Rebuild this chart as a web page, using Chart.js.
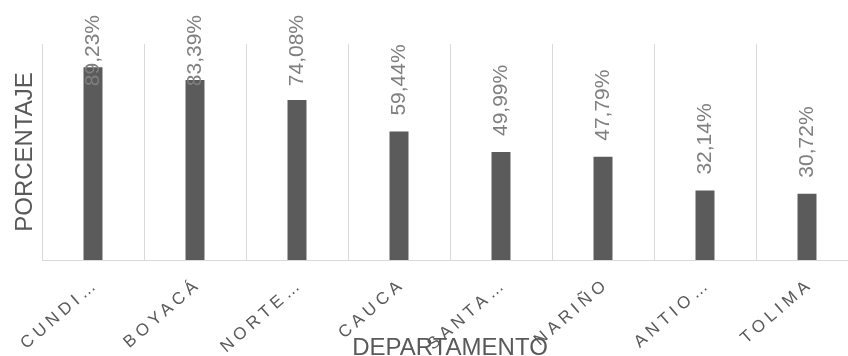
<!DOCTYPE html>
<html>
<head>
<meta charset="utf-8">
<script src="https://cdn.jsdelivr.net/npm/chart.js@4/dist/chart.umd.min.js"></script>
<style>
  html, body { margin: 0; padding: 0; background: #ffffff; overflow: hidden; }
  #wrap { width: 848px; height: 356px; overflow: hidden; position: relative; }
  canvas { display: block; }
</style>
</head>
<body>
<div id="wrap"><canvas id="c" width="858" height="356"></canvas></div>
<script>
// ---- data ----
const categories = ['CUNDI…', 'BOYACÁ', 'NORTE…', 'CAUCA', 'SANTA…', 'NARIÑO', 'ANTIO…', 'TOLIMA'];
const percentages = [89.23, 83.39, 74.08, 59.44, 49.99, 47.79, 32.14, 30.72];
const yTitle = 'PORCENTAJE';
const xTitle = 'DEPARTAMENTO';

const FONT = "'Liberation Sans', Arial, Helvetica, sans-serif";

function fmt(v) { return v.toFixed(2).replace('.', ',') + '%'; }

const labelPlugin = {
  id: 'barValueLabels',
  afterDatasetsDraw(chart) {
    const ctx = chart.ctx;
    const meta = chart.getDatasetMeta(0);
    ctx.save();
    ctx.letterSpacing = '0px';
    ctx.font = '21px ' + FONT;
    ctx.fillStyle = '#7f7f7f';
    ctx.textBaseline = 'middle';
    ctx.textAlign = 'left';
    meta.data.forEach((bar, i) => {
      const txt = fmt(percentages[i]);
      const w = ctx.measureText(txt).width;
      let bottom = bar.y - 16;
      if (bottom - w < 15) bottom = 15 + w;
      ctx.save();
      ctx.translate(bar.x, bottom);
      ctx.rotate(-Math.PI / 2);
      ctx.fillText(txt, 0, 0);
      ctx.restore();
    });
    ctx.restore();
    // letter spacing for the x tick labels drawn next (ticks z = 1)
    ctx.letterSpacing = '4.5px';
  },
  afterDraw(chart) {
    chart.ctx.letterSpacing = '0px';
  }
};

new Chart(document.getElementById('c'), {
  type: 'bar',
  data: {
    labels: categories,
    datasets: [{
      data: percentages,
      backgroundColor: '#5b5b5b',
      borderWidth: 0,
      categoryPercentage: 1,
      barPercentage: 0.186
    }]
  },
  options: {
    responsive: false,
    animation: false,
    devicePixelRatio: 1,
    layout: { padding: { top: 44, left: 0, right: 0, bottom: 0 } },
    plugins: {
      legend: { display: false },
      tooltip: { enabled: false }
    },
    scales: {
      x: {
        offset: true,
        grid: { display: true, offset: true, color: '#d9d9d9', lineWidth: 1, drawTicks: false },
        border: { display: true, color: '#d9d9d9', width: 1 },
        ticks: {
          autoSkip: false,
          minRotation: 41,
          maxRotation: 41,
          padding: 14,
          labelOffset: 4,
          z: 1,
          color: '#595959',
          font: { family: FONT, size: 17 }
        },
        title: {
          display: true,
          text: xTitle,
          color: '#595959',
          font: { family: FONT, size: 24, lineHeight: 0.65 },
          padding: { top: 0, bottom: 0 }
        },
        afterFit(scale) { scale.height = 96; }
      },
      y: {
        min: 0,
        max: 100,
        grid: { display: false, drawTicks: false },
        border: { display: false },
        ticks: { display: false },
        title: {
          display: true,
          text: yTitle,
          color: '#595959',
          font: { family: FONT, size: 24 },
          padding: { top: 11, bottom: 0 }
        },
        afterFit(scale) { scale.width = 42; }
      }
    }
  },
  plugins: [labelPlugin]
});
</script>
</body>
</html>
